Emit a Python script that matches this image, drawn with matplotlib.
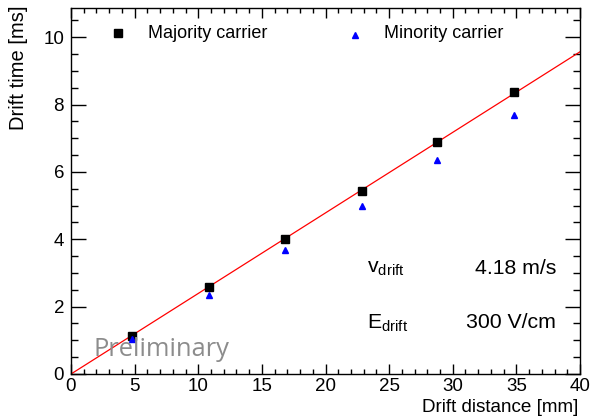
import matplotlib
matplotlib.use("Agg")
import matplotlib.pyplot as plt
import numpy as np
from matplotlib.ticker import MultipleLocator

plt.rcParams['font.family'] = ['Liberation Sans', 'DejaVu Sans']

maj_x = [4.78, 10.85, 16.82, 22.84, 28.8, 34.8]
maj_y = [1.14, 2.59, 4.0, 5.44, 6.9, 8.37]
min_x = [4.8, 10.85, 16.82, 22.84, 28.8, 34.82]
min_y = [1.03, 2.35, 3.68, 5.0, 6.36, 7.69]
v_drift = 4.18  # m/s -> slope 1/v ms/mm
fit_x = [0, 40]

fig = plt.figure(figsize=(5.92, 4.16), dpi=100)
ax = fig.add_axes([71/592, 42/416, 509/592, 366/416])

fx = np.array(fit_x, dtype=float)
ax.plot(fx, fx / v_drift, color='red', lw=0.9, zorder=2)
ax.plot(maj_x, maj_y, 's', color='black', ms=6, zorder=3, linestyle='none')
ax.plot(min_x, min_y, '^', color='blue', ms=4.5, zorder=3, linestyle='none')

ax.set_xlim(0, 40)
ax.set_ylim(0, 10.87)
ax.xaxis.set_major_locator(MultipleLocator(5))
ax.xaxis.set_minor_locator(MultipleLocator(1))
ax.yaxis.set_major_locator(MultipleLocator(2))
ax.yaxis.set_minor_locator(MultipleLocator(0.5))
ax.tick_params(which='both', direction='in', top=True, right=True, labelsize=13.5, width=1)
ax.tick_params(axis='x', which='major', length=7, pad=3)
ax.tick_params(axis='x', which='minor', length=3.6)
ax.tick_params(axis='y', which='major', length=10.8, pad=5)
ax.tick_params(axis='y', which='minor', length=5)
for s in ax.spines.values():
    s.set_linewidth(1)

fig.text(578/592, 1 - 407/416, 'Drift distance [mm]', ha='right', va='center', fontsize=13.6)
fig.text(19/592, 1 - 5/416, 'Drift time [ms]', ha='center', va='top', rotation=90, fontsize=14.5)

# legend
ax.plot([118 / 592], [1 - 33 / 416], 's', color='black', ms=5.5, transform=fig.transFigure, clip_on=False)
fig.text(148/592, 1 - 33/416, 'Majority carrier', ha='left', va='center', fontsize=13)
ax.plot([355 / 592], [1 - 35 / 416], '^', color='blue', ms=4, transform=fig.transFigure, clip_on=False)
fig.text(384/592, 1 - 33/416, 'Minority carrier', ha='left', va='center', fontsize=13)

fig.text(367/592, 1 - 268/416, r'v$_{\mathregular{drift}}$', ha='left', va='center', fontsize=15.3)
fig.text(556/592, 1 - 268/416, '4.18 m/s', ha='right', va='center', fontsize=15.3)
fig.text(367/592, 1 - 323/416, r'E$_{\mathregular{drift}}$', ha='left', va='center', fontsize=15.3)
fig.text(556/592, 1 - 323/416, '300 V/cm', ha='right', va='center', fontsize=15.3)

fig.text(93/592, 1 - 350/416, 'Preliminary', ha='left', va='center', fontsize=18.4,
         color='#8c8c8c', family='Open Sans')

fig.savefig('out.png', dpi=100)
